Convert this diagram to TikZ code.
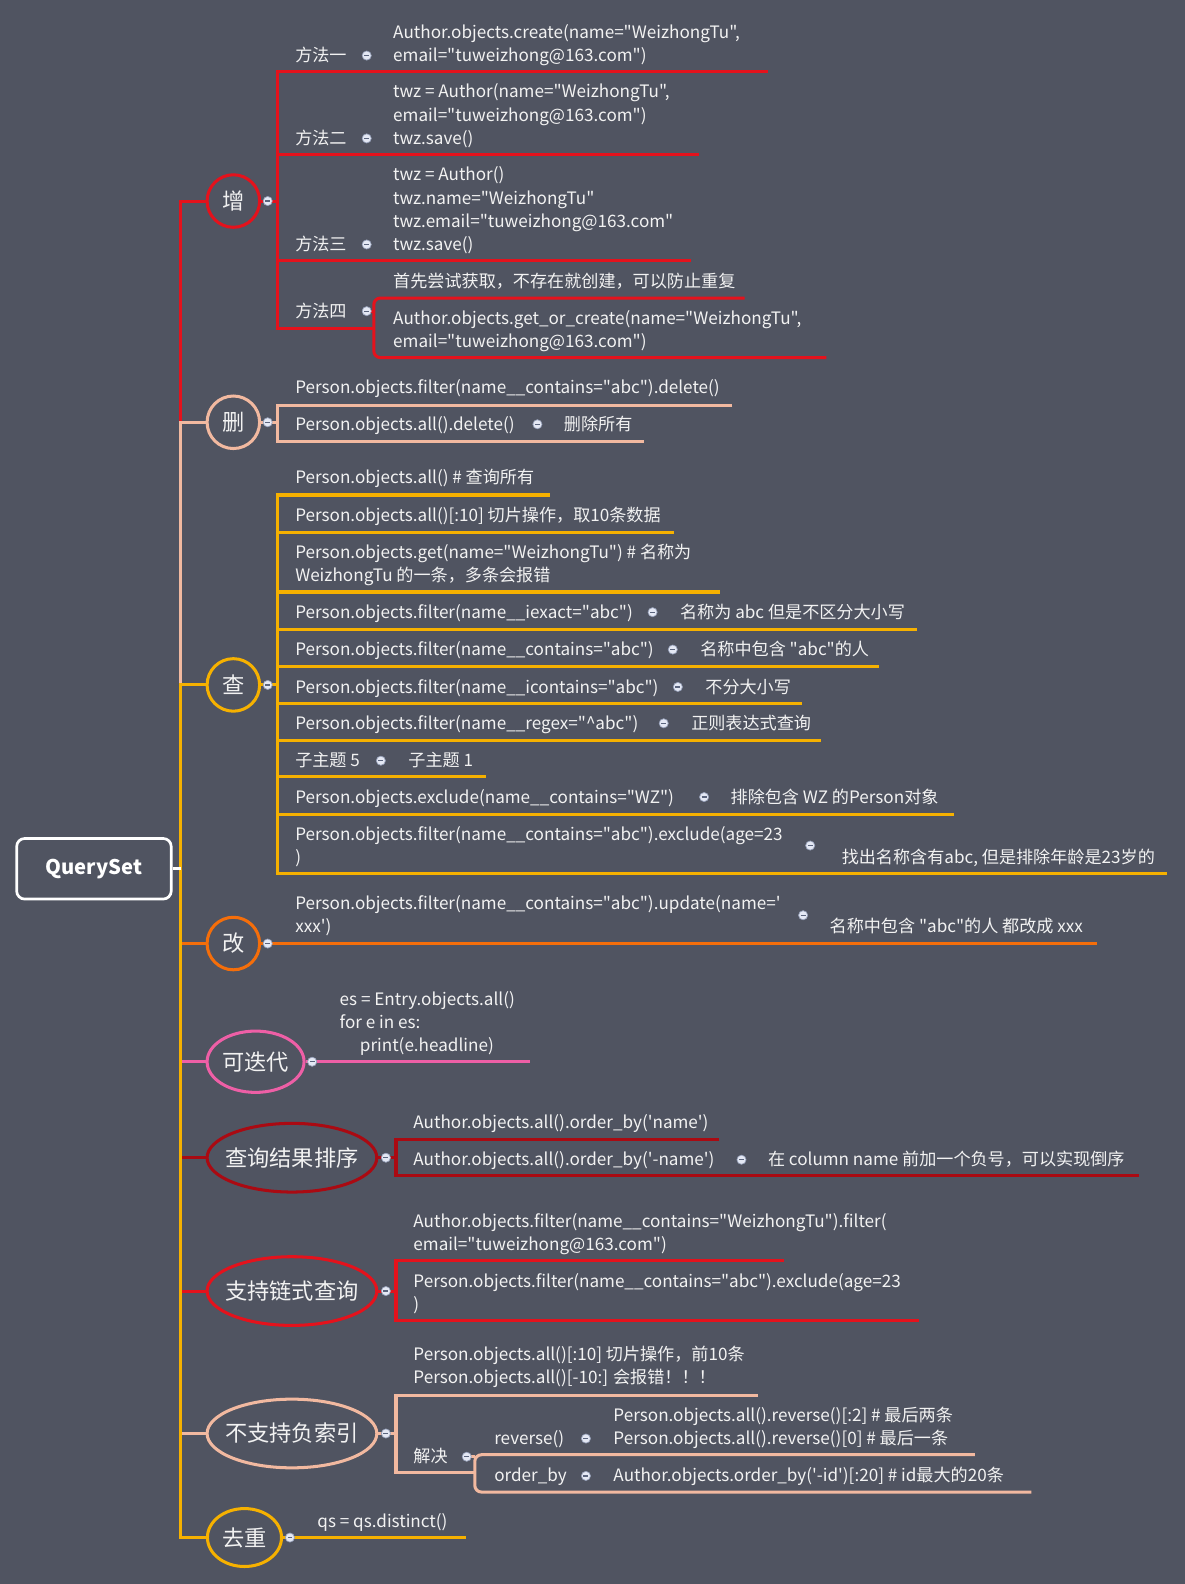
\documentclass[tikz,border=0pt]{standalone}
\usepackage{fontspec}
\newfontfamily\cjkf{Noto Sans CJK SC}
\usetikzlibrary{shapes.geometric}
\definecolor{bgc}{RGB}{80,84,97}
\definecolor{redc}{RGB}{228,18,28}
\definecolor{peachc}{RGB}{242,185,160}
\definecolor{amberc}{RGB}{246,177,0}
\definecolor{orangec}{RGB}{245,110,10}
\definecolor{pinkc}{RGB}{238,95,166}
\definecolor{dredc}{RGB}{170,10,18}
\definecolor{txtc}{RGB}{242,242,242}
\definecolor{dotc}{RGB}{228,232,244}
\definecolor{dotb}{RGB}{150,160,185}
\definecolor{dotm}{RGB}{90,100,125}
\tikzset{
  txt/.style={anchor=base west,inner sep=0pt,text=txtc,font=\cjkf\fontsize{12.7}{17}\selectfont},
  big/.style={inner sep=0pt,text=txtc,font=\cjkf\fontsize{16.5}{20}\selectfont,line width=2.25pt},
  topc/.style={big,circle,draw=#1,minimum size=39pt},
  tope/.style={big,ellipse,draw=#1},
  br/.style={line width=2.25pt,draw=#1},
  dotn/.style={circle,inner sep=0pt,minimum size=6.8pt,fill=dotc,draw=dotb,line width=0.5pt,
    path picture={\draw[line width=0.9pt,dotm] ([xshift=-1.8pt]path picture bounding box.center) -- ([xshift=1.8pt]path picture bounding box.center);}},
}
\begin{document}
\begin{tikzpicture}[x=0.75pt,y=-0.75pt]
\fill[bgc] (0,0) rectangle (1173,1568);
\useasboundingbox (0,0) rectangle (1173,1568);

% ---------- root and main topics
\node[draw=white,line width=2pt,rounded corners=6pt,minimum width=114.75pt,minimum height=45pt,text=white,font=\cjkf\fontsize{15}{18}\selectfont\bfseries] (root) at (93,860) {QuerySet};
\coordinate (trunk) at (179,860);

\node[topc=redc] (zeng) at (231,199) {增};
\node[topc=peachc] (shan) at (231,418) {删};
\node[topc=amberc] (cha) at (231,678) {查};
\node[topc=orangec] (gai) at (231,934) {改};
\node[tope=pinkc,minimum width=72pt,minimum height=45.5pt] (ddai) at (253,1051) {\makebox[0pt]{可迭代}};
\node[tope=dredc,minimum width=126pt,minimum height=51pt] (paixu) at (289,1146) {\makebox[0pt]{查询结果排序}};
\node[tope=redc,minimum width=126pt,minimum height=51pt] (lianshi) at (289,1278) {\makebox[0pt]{支持链式查询}};
\node[tope=peachc,minimum width=126pt,minimum height=51pt] (fusuo) at (289,1419) {\makebox[0pt]{不支持负索引}};
\node[tope=amberc,minimum width=55pt,minimum height=43pt] (quchong) at (242,1522) {\makebox[0pt]{去重}};

% ---------- trunk connectors
\draw[br=redc] (trunk) |- (zeng);
\draw[br=peachc] (trunk) |- (shan);
\draw[br=amberc] (trunk) |- (cha);
\draw[br=orangec] (trunk) |- (gai);
\draw[br=pinkc] (trunk) |- (ddai);
\draw[br=dredc] (trunk) |- (paixu);
\draw[br=redc] (trunk) |- (lianshi);
\draw[br=peachc] (trunk) |- (fusuo);
\draw[br=amberc] (trunk) |- (quchong);
\draw[line width=2pt,white] (root.east) -- (trunk);

% ================= 增
\draw[br=redc] (zeng.east) -- (275,199);
\draw[br=redc] (760,71) -- (275,71) -- (275,325) -- (370,325);
\draw[br=redc] (275,153) -- (692,153);
\draw[br=redc] (275,258) -- (684,258);
\draw[br=redc,rounded corners=5pt] (737,295) -- (370,295) -- (370,354) -- (818,354);
\draw[br=redc] (363,308) -- (370,308);
\node[dotn] (dz) at (265,199) {};

\node[txt] (m1) at (292,61) {方法一};
\node[dotn] (dm1) at (363,55) {};
\node[txt] (m1a) at (389,38) {Author.objects.create(name="WeizhongTu",};
\node[txt] (m1b) at (389,61) {email="tuweizhong@163.com")};

\node[txt] (m2) at (292,143) {方法二};
\node[dotn] (dm2) at (363,137) {};
\node[txt] (m2a) at (389,97) {twz = Author(name="WeizhongTu",};
\node[txt] (m2b) at (389,120) {email="tuweizhong@163.com")};
\node[txt] (m2c) at (389,143) {twz.save()};

\node[txt] (m3) at (292,248) {方法三};
\node[dotn] (dm3) at (363,242) {};
\node[txt] (m3a) at (389,179) {twz = Author()};
\node[txt] (m3b) at (389,202) {twz.name="WeizhongTu"};
\node[txt] (m3c) at (389,225) {twz.email="tuweizhong@163.com"};
\node[txt] (m3d) at (389,248) {twz.save()};

\node[txt] (m4) at (292,314) {方法四};
\node[dotn] (dm4) at (363,308) {};
\node[txt] (m4a) at (389,285) {首先尝试获取，不存在就创建，可以防止重复};
\node[txt] (m4b) at (389,321) {Author.objects.get\_or\_create(name="WeizhongTu",};
\node[txt] (m4c) at (389,344) {email="tuweizhong@163.com")};

% ================= 删
\draw[br=peachc] (shan.east) -- (275,418);
\draw[br=peachc] (725,401) -- (275,401) -- (275,437) -- (637,437);
\node[dotn] (ds) at (265,418) {};
\node[txt] (s1) at (292,390) {Person.objects.filter(name\_\_contains="abc").delete()};
\node[txt] (s2) at (292,426) {Person.objects.all().delete()};
\node[dotn] (ds2) at (532,420) {};
\node[txt] (s2a) at (558,426) {删除所有};

% ================= 查
\draw[br=amberc] (cha.east) -- (275,678);
\draw[br=amberc] (544,490) -- (275,490) -- (275,865) -- (1155,865);
\foreach \yy/\xe in {527/667,586/713,623/908,660/870,696/794,733/813,769/481,806/944}
  \draw[br=amberc] (275,\yy) -- (\xe,\yy);
\node[dotn] (dc) at (265,678) {};
\node[txt] (c1) at (292,479) {Person.objects.all() \# 查询所有};
\node[txt] (c2) at (292,516) {Person.objects.all()[:10] 切片操作，取10条数据};
\node[txt] (c3a) at (292,553) {Person.objects.get(name="WeizhongTu") \# 名称为};
\node[txt] (c3b) at (292,576) {WeizhongTu 的一条，多条会报错};
\node[txt] (c4) at (292,612) {Person.objects.filter(name\_\_iexact="abc")};
\node[dotn] (dc4) at (646,606) {};
\node[txt] (c4a) at (673,612) {名称为 abc 但是不区分大小写};
\node[txt] (c5) at (292,649) {Person.objects.filter(name\_\_contains="abc")};
\node[dotn] (dc5) at (666,643) {};
\node[txt] (c5a) at (693,649) {名称中包含 "abc"的人};
\node[txt] (c6) at (292,686) {Person.objects.filter(name\_\_icontains="abc")};
\node[dotn] (dc6) at (671,680) {};
\node[txt] (c6a) at (698,686) {不分大小写};
\node[txt] (c7) at (292,722) {Person.objects.filter(name\_\_regex="\textasciicircum abc")};
\node[dotn] (dc7) at (657,716) {};
\node[txt] (c7a) at (684,722) {正则表达式查询};
\node[txt] (c8) at (292,759) {子主题 5};
\node[dotn] (dc8) at (377,753) {};
\node[txt] (c8a) at (404,759) {子主题 1};
\node[txt] (c9) at (292,795) {Person.objects.exclude(name\_\_contains="WZ")};
\node[dotn] (dc9) at (697,789) {};
\node[txt] (c9a) at (723,795) {排除包含 WZ 的Person对象};
\node[txt] (c10a) at (292,832) {Person.objects.filter(name\_\_contains="abc").exclude(age=23};
\node[txt] (c10b) at (292,855) {)};
\node[dotn] (dc10) at (802,837) {};
\node[txt] (c10c) at (833,855) {找出名称含有abc, 但是排除年龄是23岁的};

% ================= 改
\draw[br=orangec] (gai.east) -- (1086,934);
\node[dotn] (dg) at (265,934) {};
\node[txt] (g1a) at (292,900) {Person.objects.filter(name\_\_contains="abc").update(name=\textquotesingle};
\node[txt] (g1b) at (292,923) {xxx\textquotesingle)};
\node[dotn] (dg1) at (795,906) {};
\node[txt] (g1c) at (821,923) {名称中包含 "abc"的人 都改成 xxx};

% ================= 可迭代
\draw[br=pinkc] (ddai.east) -- (525,1051);
\node[dotn] (dd) at (309,1051) {};
\node[txt] (d1) at (336,995) {es = Entry.objects.all()};
\node[txt] (d2) at (336,1018) {for e in es:};
\node[txt] (d3) at (356,1041) {print(e.headline)};

% ================= 查询结果排序
\draw[br=dredc] (paixu.east) -- (392,1146);
\draw[br=dredc] (712,1128) -- (392,1128) -- (392,1164) -- (1127,1164);
\node[dotn] (dp) at (382,1146) {};
\node[txt] (p1) at (409,1117) {Author.objects.all().order\_by(\textquotesingle name\textquotesingle)};
\node[txt] (p2) at (409,1154) {Author.objects.all().order\_by(\textquotesingle-name\textquotesingle)};
\node[dotn] (dp2) at (734,1148) {};
\node[txt] (p2a) at (760,1154) {在 column name 前加一个负号，可以实现倒序};

% ================= 支持链式查询
\draw[br=redc] (lianshi.east) -- (392,1278);
\draw[br=redc] (776,1248) -- (392,1248) -- (392,1307) -- (910,1307);
\node[dotn] (dl) at (382,1278) {};
\node[txt] (l1a) at (409,1215) {Author.objects.filter(name\_\_contains="WeizhongTu").filter(};
\node[txt] (l1b) at (409,1238) {email="tuweizhong@163.com")};
\node[txt] (l2a) at (409,1274) {Person.objects.filter(name\_\_contains="abc").exclude(age=23};
\node[txt] (l2b) at (409,1297) {)};

% ================= 不支持负索引
\draw[br=peachc] (fusuo.east) -- (392,1419);
\draw[br=peachc] (750,1381) -- (392,1381) -- (392,1458) -- (470,1458);
\draw[br=peachc,rounded corners=5pt] (965,1440) -- (470,1440) -- (470,1477) -- (1021,1477);
\draw[br=peachc] (462,1442) -- (470,1442);
\node[dotn] (df) at (382,1419) {};
\node[txt] (f1a) at (409,1347) {Person.objects.all()[:10] 切片操作，前10条};
\node[txt] (f1b) at (409,1370) {Person.objects.all()[-10:] 会报错！！！};
\node[txt] (f2) at (409,1448) {解决};
\node[dotn] (df2) at (462,1442) {};
\node[txt] (f3) at (489,1430) {reverse()};
\node[dotn] (df3) at (580,1424) {};
\node[txt] (f3a) at (607,1407) {Person.objects.all().reverse()[:2] \# 最后两条};
\node[txt] (f3b) at (607,1430) {Person.objects.all().reverse()[0] \# 最后一条};
\node[txt] (f4) at (489,1467) {order\_by};
\node[dotn] (df4) at (580,1461) {};
\node[txt] (f4a) at (607,1467) {Author.objects.order\_by(\textquotesingle-id\textquotesingle)[:20] \# id最大的20条};

% ================= 去重
\draw[br=amberc] (quchong.east) -- (461,1522);
\node[dotn] (dq) at (287,1522) {};
\node[txt] (q1) at (314,1512) {qs = qs.distinct()};
\end{tikzpicture}
\end{document}
